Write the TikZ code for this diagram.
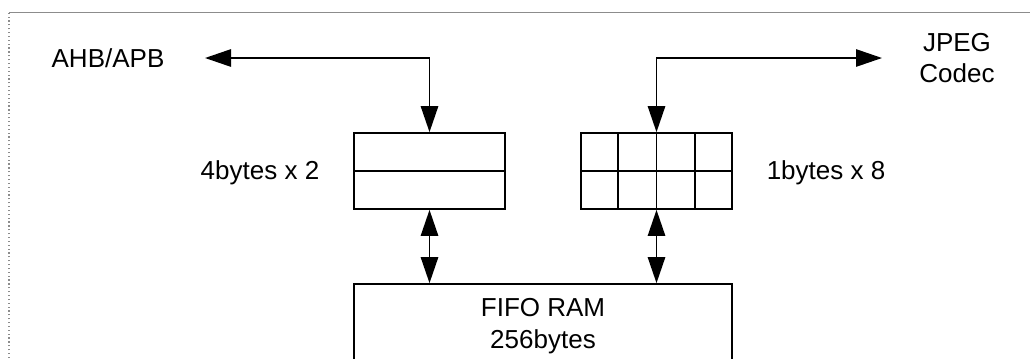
\documentclass[tikz,border=0pt]{standalone}
\usepackage{fontspec}
\setmainfont{Liberation Sans}
\usetikzlibrary{arrows.meta,calc}
\definecolor{framegray}{HTML}{8C8C8C}

\begin{document}
\begin{tikzpicture}[x=0.75pt, y=-0.75pt, line width=1.3pt,
    >={Triangle[length=19.5pt, width=13pt]},
    every node/.style={font=\fontsize{19.5}{23.5}\selectfont, align=center},
    buf/.style={draw, rectangle, minimum width=113.25pt, minimum height=57pt, inner sep=0pt}]
  \useasboundingbox (0,0) rectangle (1030,358);
  \clip (0,0) rectangle (1030,358);
  % frame
  \draw[framegray, line width=0.9pt, dotted] (9,358) -- (9,12);
  \draw[framegray, line width=0.7pt] (9,12) -- (1030,12);
  % buffers and ram
  \node[buf] (abuf) at (429.5,171) {};
  \node[buf] (jbuf) at (656.5,171) {};
  \node[buf, minimum width=283.5pt, minimum height=63pt] (fifo) at (543,326) {FIFO RAM\\256bytes};
  \draw (abuf.west) -- (abuf.east);
  \draw (jbuf.west) -- (jbuf.east);
  \foreach \f in {0.25,0.5,0.75}
    \draw ($(jbuf.north west)!\f!(jbuf.north east)$) -- ($(jbuf.south west)!\f!(jbuf.south east)$);
  % labels
  \node (bus) at (108,58) {AHB/APB};
  \node (codec) at (957,58) {JPEG\\Codec};
  \node (asize) at (260,173) {4bytes x 2};
  \node (jsize) at (826,173) {1bytes x 8};
  \coordinate (bustip) at (205,58);
  \coordinate (codectip) at (882,58);
  % connections
  \draw[<->] (abuf.north) |- (bustip);
  \draw[<->] (jbuf.north) |- (codectip);
  \draw[<->] (abuf.south) -- (abuf.south |- fifo.north);
  \draw[<->] (jbuf.south) -- (jbuf.south |- fifo.north);
\end{tikzpicture}
\end{document}
